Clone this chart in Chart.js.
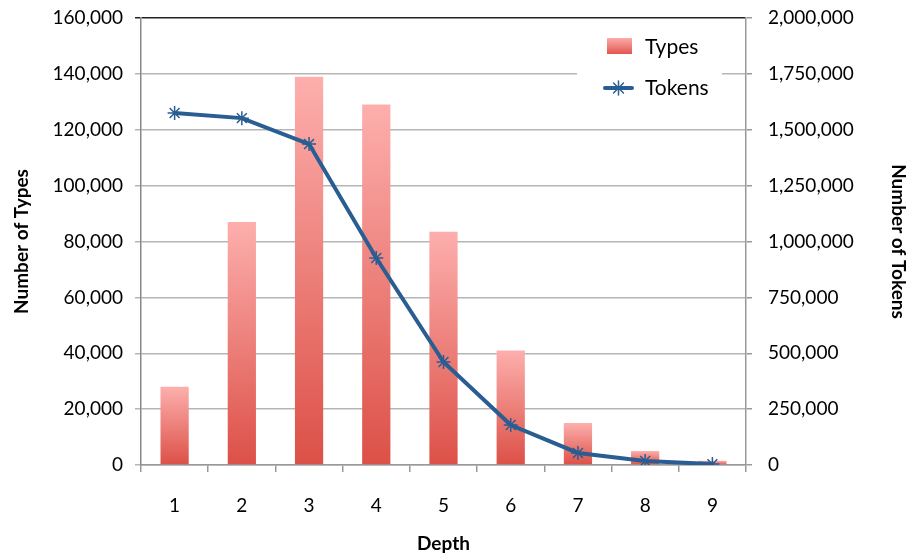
<!DOCTYPE html>
<html><head><meta charset="utf-8">
<script src="https://cdn.jsdelivr.net/npm/chart.js@4.4.1/dist/chart.umd.min.js"></script>
<style>html,body{margin:0;padding:0;background:#fff}#wrap{width:920px;height:559px}</style>
</head><body><div id="wrap"><canvas id="c" width="920" height="559"></canvas></div>
<script>
const categories = ['1','2','3','4','5','6','7','8','9'];
const typesValues = [28000, 87000, 139000, 129000, 83500, 41000, 15000, 5000, 1500];
const tokensValues = [1575000, 1552000, 1436000, 926000, 461000, 179000, 54000, 18000, 4000];
const seriesNames = ['Types', 'Tokens'];
const axisTitles = {x: 'Depth', y: 'Number of Types', y2: 'Number of Tokens'};

const FONT = 'Lato, "Open Sans", sans-serif';
const BLUE = '#2A5E92';

function barFill(ctx) {
  const chart = ctx.chart;
  const ca = chart.chartArea;
  if (!ca || ctx.type !== 'data') return '#EC7A74';
  const ys = chart.scales.y;
  const top = ys.getPixelForValue(ctx.raw);
  const bottom = ys.getPixelForValue(0);
  if (!isFinite(top) || bottom - top < 1) return '#F59590';
  const g = chart.ctx.createLinearGradient(0, top, 0, bottom);
  g.addColorStop(0, '#FDAFAD');
  g.addColorStop(1, '#DC5047');
  return g;
}

const legendPlugin = {
  id: 'boxLegend',
  afterDatasetsDraw(chart) {
    const c = chart.ctx;
    c.save();
    c.fillStyle = '#fff';
    c.fillRect(577, 30, 145, 75);
    const g = c.createLinearGradient(0, 38, 0, 54);
    g.addColorStop(0, '#FCACA9');
    g.addColorStop(1, '#E1564E');
    c.fillStyle = g;
    c.fillRect(607, 38, 25, 16);
    c.strokeStyle = BLUE;
    c.lineWidth = 4;
    c.lineCap = 'round';
    c.beginPath(); c.moveTo(605, 88); c.lineTo(632, 88); c.stroke();
    c.lineWidth = 1.5;
    const r = 7, cx = 618.5, cy = 88;
    c.beginPath();
    for (let i = 0; i < 4; i++) {
      const a = i * Math.PI / 4;
      c.moveTo(cx - r * Math.cos(a), cy - r * Math.sin(a));
      c.lineTo(cx + r * Math.cos(a), cy + r * Math.sin(a));
    }
    c.stroke();
    c.fillStyle = '#000';
    c.font = '21px ' + FONT;
    c.textBaseline = 'middle';
    c.fillText(seriesNames[0], 645, 47);
    c.fillText(seriesNames[1], 645, 88);
    c.restore();
  }
};

function vFit(w) {
  return function (s) { s.width = w; s.paddingTop = 0; s.paddingBottom = 0; };
}

new Chart(document.getElementById('c'), {
  data: {
    labels: categories,
    datasets: [
      {
        type: 'line', label: seriesNames[1], data: tokensValues, yAxisID: 'y2',
        borderColor: BLUE, borderWidth: 4, pointStyle: 'star', pointRadius: 7,
        pointBorderColor: BLUE, pointBorderWidth: 1.5, pointBackgroundColor: BLUE,
        tension: 0, order: 0
      },
      {
        type: 'bar', label: seriesNames[0], data: typesValues, yAxisID: 'y',
        backgroundColor: barFill, barPercentage: 0.84, categoryPercentage: 0.5, order: 1
      }
    ]
  },
  plugins: [legendPlugin],
  options: {
    responsive: false, animation: false, devicePixelRatio: 1,
    layout: {padding: {top: 18, left: 0, right: 0, bottom: 0}},
    plugins: {legend: {display: false}, tooltip: {enabled: false}},
    scales: {
      x: {
        offset: true,
        grid: {offset: true, drawOnChartArea: false, color: '#999', tickLength: 7, lineWidth: 1.5},
        border: {color: '#999', width: 1.5},
        ticks: {font: {family: FONT, size: 19}, color: '#000', padding: 22},
        title: {display: true, text: axisTitles.x, font: {family: FONT, size: 19, weight: 'bold'}, color: '#000', padding: {top: 8}},
        afterFit(s) { s.height = 94; s.paddingLeft = 0; s.paddingRight = 0; }
      },
      y: {
        position: 'left', min: 0, max: 160000,
        ticks: {stepSize: 20000, font: {family: FONT, size: 19}, color: '#000', padding: 12,
          callback: v => v.toLocaleString('en-US')},
        grid: {color: ctx => ctx.tick && ctx.tick.value === 160000 ? '#222' : '#b5b5b5', lineWidth: 1.5, tickLength: 6},
        border: {color: '#888', width: 1.5},
        title: {display: true, text: axisTitles.y, font: {family: FONT, size: 19, weight: 'bold'}, color: '#000', padding: {top: 10, bottom: 4}},
        afterFit: vFit(141)
      },
      y2: {
        position: 'right', min: 0, max: 2000000,
        ticks: {stepSize: 250000, font: {family: FONT, size: 19}, color: '#000', padding: 16,
          callback: v => v.toLocaleString('en-US')},
        grid: {drawOnChartArea: false, color: '#999', lineWidth: 1.5, tickLength: 6},
        border: {color: '#999', width: 1.5},
        title: {display: true, text: axisTitles.y2, font: {family: FONT, size: 19, weight: 'bold'}, color: '#000', padding: {top: 10, bottom: 4}},
        afterFit: vFit(174)
      }
    }
  }
});
</script></body></html>
